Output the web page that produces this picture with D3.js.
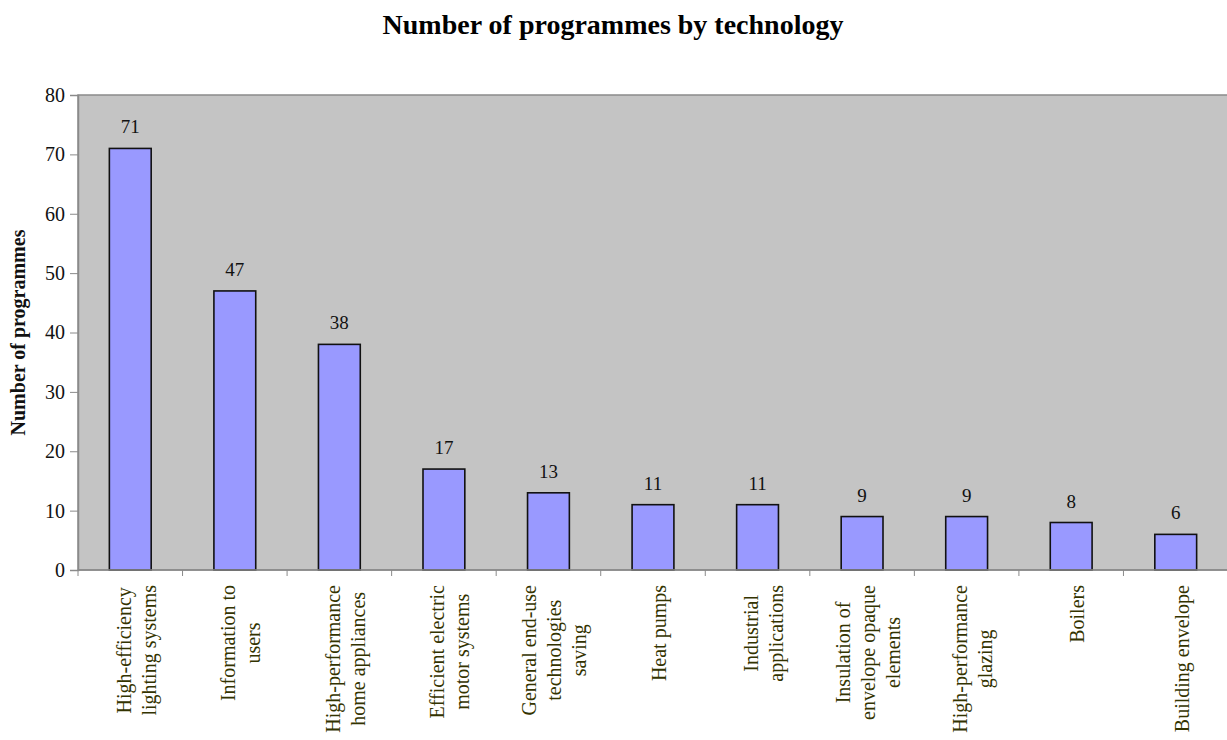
<!DOCTYPE html>
<html>
<head>
<meta charset="utf-8">
<script src="https://cdn.jsdelivr.net/npm/d3@7"></script>
<style>
  body { margin: 0; background: #fff; }
  svg { display: block; font-family: "Liberation Serif", "Times New Roman", serif; }
</style>
</head>
<body>
<svg id="chart" width="1227" height="740"></svg>
<script>
// categories (label lines) and values
const categories = [
  ["High-efficiency", "lighting systems"],
  ["Information to", "users"],
  ["High-performance", "home appliances"],
  ["Efficient electric", "motor systems"],
  ["General end-use", "technologies", "saving"],
  ["Heat pumps"],
  ["Industrial", "applications"],
  ["Insulation of", "envelope opaque", "elements"],
  ["High-performance", "glazing"],
  ["Boilers"],
  ["Building envelope"]
];
const values = [71, 47, 38, 17, 13, 11, 11, 9, 9, 8, 6];
const yTicks = [0, 10, 20, 30, 40, 50, 60, 70, 80];

const svg = d3.select('#chart');
const plotL = 78, plotR = 1228, plotT = 95, plotB = 570;

const x = d3.scaleBand()
    .domain(d3.range(categories.length))
    .range([plotL, plotR])
    .paddingInner(0.6)
    .paddingOuter(0.3);

const y = d3.scaleLinear().domain([0, 80]).range([plotB, plotT]);

// plot background
svg.append('rect')
    .attr('x', plotL).attr('y', plotT)
    .attr('width', plotR - plotL).attr('height', plotB - plotT)
    .attr('fill', '#c4c4c4')
    .attr('stroke', '#8a8a8a')
    .attr('stroke-width', 1.5);

// bars
svg.selectAll('rect.bar')
    .data(values)
    .enter()
    .append('rect')
    .attr('class', 'bar')
    .attr('x', (d, i) => x(i))
    .attr('y', d => y(d))
    .attr('width', x.bandwidth())
    .attr('height', d => y(0) - y(d))
    .attr('fill', '#9999ff')
    .attr('stroke', '#111')
    .attr('stroke-width', 1.6);

// value labels
svg.selectAll('text.val')
    .data(values)
    .enter()
    .append('text')
    .attr('class', 'val')
    .attr('x', (d, i) => x(i) + x.bandwidth() / 2)
    .attr('y', d => y(d) - 15)
    .attr('text-anchor', 'middle')
    .attr('font-size', 19)
    .attr('fill', '#111')
    .text(d => d);

// y axis
const yAxis = d3.axisLeft(y).tickValues(yTicks).tickSize(8).tickPadding(5);
const gy = svg.append('g').attr('transform', `translate(${plotL},0)`).call(yAxis);
gy.select('.domain').attr('stroke', '#8a8a8a').attr('stroke-width', 1.5);
gy.selectAll('.tick line').attr('stroke', '#8a8a8a');
gy.selectAll('.tick text')
    .attr('font-size', 20)
    .attr('font-family', '"Liberation Serif", serif')
    .attr('fill', '#111');

// x axis: ticks at category boundaries
const step = x.step();
const bounds = d3.range(categories.length + 1).map(i => plotL + i * step);
const gx = svg.append('g');
gx.append('line')
    .attr('x1', plotL).attr('x2', plotR)
    .attr('y1', plotB).attr('y2', plotB)
    .attr('stroke', '#8a8a8a').attr('stroke-width', 1.5);
gx.selectAll('line.xt')
    .data(bounds)
    .enter()
    .append('line')
    .attr('class', 'xt')
    .attr('x1', d => d).attr('x2', d => d)
    .attr('y1', plotB).attr('y2', plotB + 6)
    .attr('stroke', '#8a8a8a');

// x labels, rotated, lines centred, block top-aligned under axis
const lineH = 25;
categories.forEach((lines, i) => {
    const cx = x(i) + x.bandwidth() / 2 + 6;
    const g = svg.append('g');
    const texts = lines.map(ln => g.append('text')
        .attr('font-size', 20)
        .attr('fill', '#333300')
        .attr('text-anchor', 'middle')
        .text(ln));
    const maxLen = d3.max(texts, t => t.node().getComputedTextLength());
    const cy = plotB + 15 + maxLen / 2;
    const n = lines.length;
    texts.forEach((t, j) => {
        const off = (j - (n - 1) / 2) * lineH + 7;
        t.attr('transform', `translate(${cx + off},${cy}) rotate(-90)`);
    });
});

// y axis title
svg.append('text')
    .attr('transform', `translate(25,${(plotT + plotB) / 2}) rotate(-90)`)
    .attr('text-anchor', 'middle')
    .attr('font-size', 20)
    .attr('font-weight', 'bold')
    .attr('fill', '#111')
    .text('Number of programmes');

// title
svg.append('text')
    .attr('x', 613)
    .attr('y', 34)
    .attr('text-anchor', 'middle')
    .attr('font-size', 28)
    .attr('font-weight', 'bold')
    .attr('fill', '#000')
    .text('Number of programmes by technology');
</script>
</body>
</html>
